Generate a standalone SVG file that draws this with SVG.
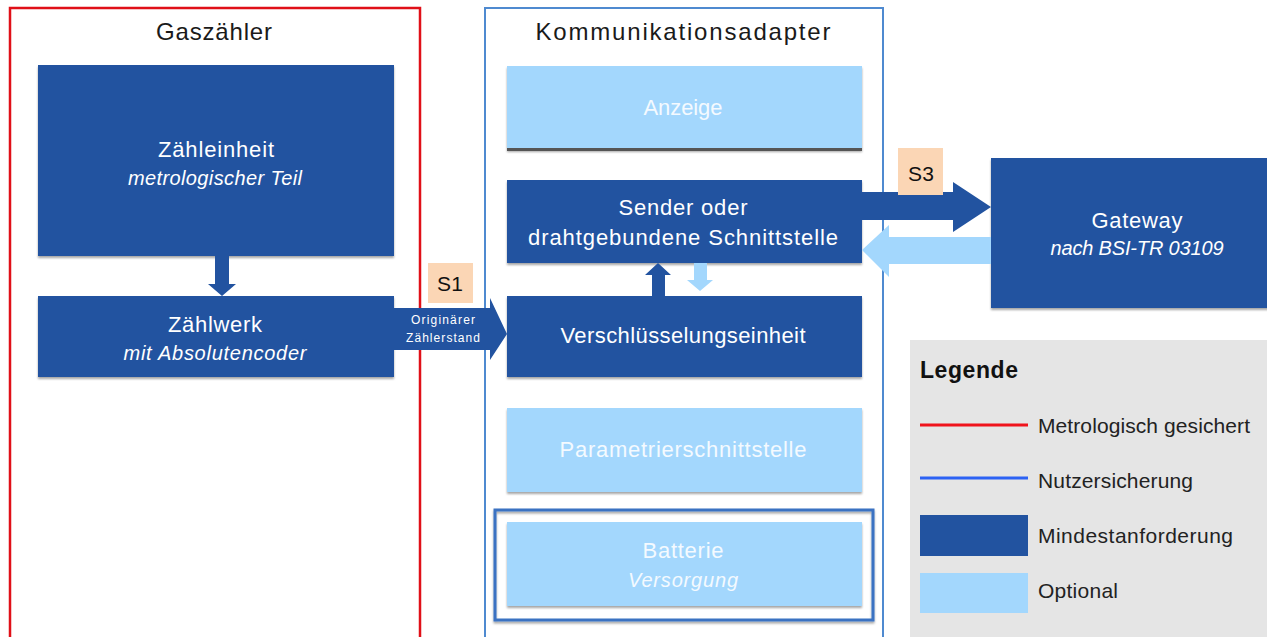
<svg xmlns="http://www.w3.org/2000/svg" width="1267" height="637" viewBox="0 0 1267 637">
<style>
text{font-family:"Liberation Sans",Arial,sans-serif}
.t{fill:#1a1a1a;font-size:24px;text-anchor:middle}
.w{fill:#ffffff;font-size:22px;text-anchor:middle}
.wi{fill:#ffffff;font-size:20px;text-anchor:middle;font-style:italic}
.lw{fill:#f4faff;font-size:22px;text-anchor:middle}
.lwi{fill:#f4faff;font-size:20px;text-anchor:middle;font-style:italic}
.dk{fill:#2253a0}
.lt{fill:#a3d7fd}
.lab{fill:#fbd6b5}
.st{fill:#111;font-size:21px;text-anchor:middle}
.lg{fill:#222;font-size:21px}
</style>
<defs>
<filter id="sh" x="-5%" y="-5%" width="110%" height="120%">
<feDropShadow dx="0" dy="2" stdDeviation="1" flood-color="#000" flood-opacity="0.35"/>
</filter>
</defs>
<rect width="1267" height="637" fill="#ffffff"/>

<g id="gaszaehler">
<rect x="10" y="8" width="410" height="640" fill="none" stroke="#e01018" stroke-width="2.5"/>
<text class="t" x="214" y="40" textLength="116">Gaszähler</text>
</g>
<g id="kommunikationsadapter">
<rect x="485" y="8" width="398" height="640" fill="none" stroke="#4f8ad0" stroke-width="2"/>
<text class="t" x="683" y="40" textLength="295">Kommunikationsadapter</text>
</g>

<g id="zaehleinheit">
<rect class="dk" x="38" y="65" width="356" height="191" filter="url(#sh)"/>
<text class="w" x="216" y="157" textLength="116">Zähleinheit</text>
<text class="wi" x="215" y="185" textLength="174">metrologischer Teil</text>
</g>
<g id="zaehlwerk">
<rect class="dk" x="38" y="296" width="356" height="81" filter="url(#sh)"/>
<text class="w" x="215" y="332" textLength="94">Zählwerk</text>
<text class="wi" x="215" y="360" textLength="183">mit Absolutencoder</text>
</g>

<g id="anzeige">
<rect class="lt" x="507" y="66" width="355" height="84" filter="url(#sh)"/>
<rect x="507" y="148" width="355" height="3" fill="#555"/>
<text class="lw" x="683" y="115" textLength="79">Anzeige</text>
</g>
<g id="sender">
<rect class="dk" x="507" y="180" width="355" height="83" filter="url(#sh)"/>
<text class="w" x="683" y="215" textLength="129">Sender oder</text>
<text class="w" x="683" y="245" textLength="310">drahtgebundene  Schnittstelle</text>
</g>
<g id="verschluesselung">
<rect class="dk" x="507" y="296" width="355" height="81" filter="url(#sh)"/>
<text class="w" x="683" y="343" textLength="245">Verschlüsselungseinheit</text>
</g>
<g id="parametrier">
<rect class="lt" x="507" y="408" width="355" height="84" filter="url(#sh)"/>
<text class="lw" x="683" y="457" textLength="247">Parametrierschnittstelle</text>
</g>
<g id="batterie">
<rect x="495" y="510" width="378" height="110" fill="none" stroke="#3a72c2" stroke-width="3" filter="url(#sh)"/>
<rect class="lt" x="507" y="522" width="355" height="84" filter="url(#sh)"/>
<text class="lw" x="683" y="558" textLength="81">Batterie</text>
<text class="lwi" x="683" y="587" textLength="110">Versorgung</text>
</g>

<g id="gateway">
<rect class="dk" x="991" y="158" width="285" height="150" filter="url(#sh)"/>
<text class="w" x="1137" y="228" textLength="91">Gateway</text>
<text class="wi" x="1137" y="255" textLength="173">nach BSI-TR 03109</text>
</g>

<g id="connectors">
<polygon class="dk" points="215,256 229,256 229,284 236,284 222,296 208,284 215,284"/>
<polygon class="dk" points="394,308 490,308 490,298 507,334 490,360 490,350 394,350"/>
<polygon class="dk" points="652,296 652,275 645,275 658,263 671,275 665,275 665,296"/>
<polygon class="lt" points="694,263 707,263 707,280 713,280 700,291 687,280 694,280"/>
<polygon class="dk" points="862,192 953,192 953,182 991,207 953,232 953,220 862,220"/>
<polygon class="lt" points="991,237 889,237 889,225 862,250 889,277 889,264 991,264"/>
</g>

<g id="s1">
<rect class="lab" x="428" y="263" width="45" height="40"/>
<text class="st" x="450" y="291" textLength="26">S1</text>
</g>
<g id="s1label">
<text x="443" y="324" fill="#fff" font-size="12" text-anchor="middle" textLength="64">Originärer</text>
<text x="443" y="342" fill="#fff" font-size="12" text-anchor="middle" textLength="74">Zählerstand</text>
</g>
<g id="s3">
<rect class="lab" x="898" y="148" width="45" height="47"/>
<text class="st" x="921" y="181" textLength="26">S3</text>
</g>

<g id="legende">
<rect x="910" y="340" width="360" height="300" fill="#e5e5e5"/>
<text x="920" y="378" font-size="23" font-weight="bold" fill="#111" textLength="98">Legende</text>
<line x1="920" y1="425" x2="1028" y2="425" stroke="#f0141c" stroke-width="3"/>
<text class="lg" x="1038" y="433" textLength="212">Metrologisch gesichert</text>
<line x1="920" y1="478" x2="1028" y2="478" stroke="#2c62f4" stroke-width="3"/>
<text class="lg" x="1038" y="488" textLength="155">Nutzersicherung</text>
<rect class="dk" x="920" y="515" width="108" height="41"/>
<text class="lg" x="1038" y="543" textLength="195">Mindestanforderung</text>
<rect class="lt" x="920" y="573" width="108" height="40"/>
<text class="lg" x="1038" y="598" textLength="80">Optional</text>
</g>
</svg>
